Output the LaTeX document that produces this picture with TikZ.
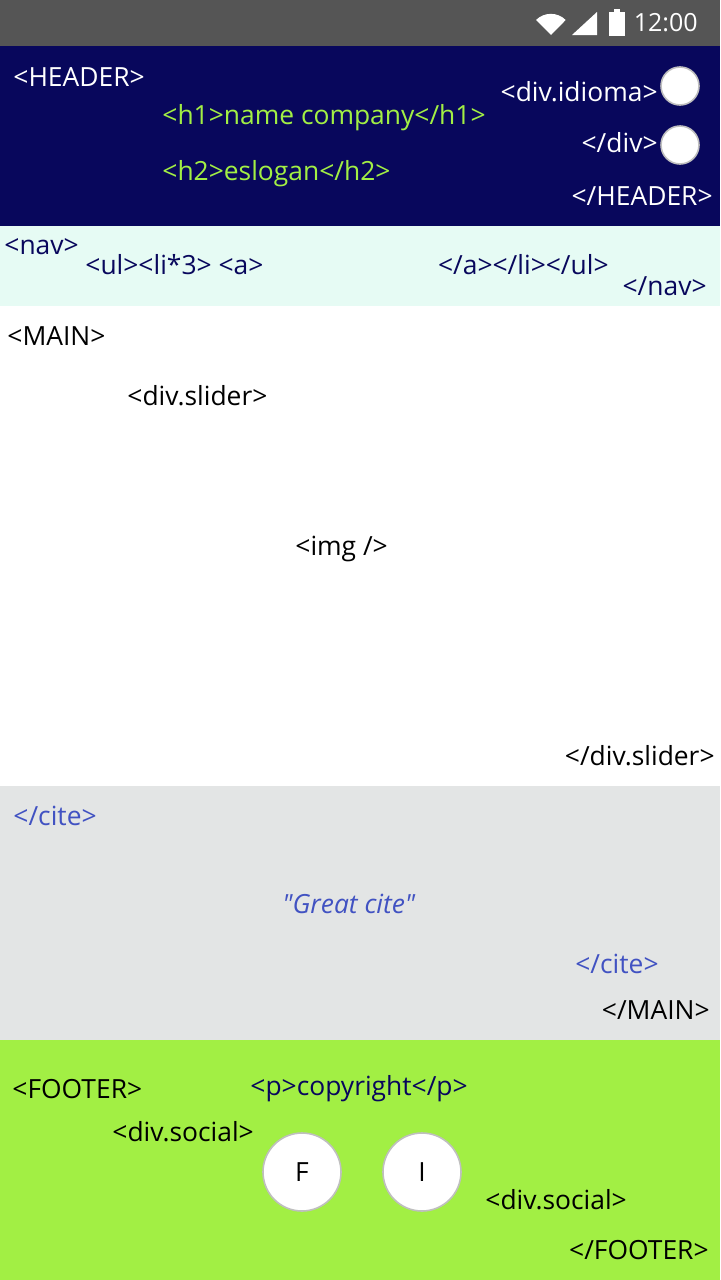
\documentclass[tikz,border=0pt]{standalone}
\usepackage{fontspec}
\setmainfont{Open Sans}
\usetikzlibrary{positioning}
\definecolor{statusgray}{HTML}{555555}
\definecolor{headnavy}{HTML}{08075C}
\definecolor{navmint}{HTML}{E6FBF4}
\definecolor{citegray}{HTML}{E3E5E5}
\definecolor{footgreen}{HTML}{A2EF44}
\definecolor{citeblue}{HTML}{4152C2}
\tikzset{tag/.style={inner sep=0pt, font=\fontsize{13.2}{13.2}\selectfont},
lefttag/.style={tag, anchor=base west},
righttag/.style={tag, anchor=base east},
lang/.style={circle, fill=white, draw=gray!50, line width=0.8pt, minimum size=19pt, inner sep=0pt},
social/.style={lang, minimum size=39pt, font=\fontsize{13.2}{13.2}\selectfont}}

\begin{document}
\begin{tikzpicture}[x=0.5pt,y=-0.5pt]
  \useasboundingbox (0,0) rectangle (720,1280);
  % bands
  \fill [statusgray] (0,0) rectangle (720,46);
  \fill [headnavy] (0,46) rectangle (720,226);
  \fill [navmint] (0,226) rectangle (720,306);
  \fill [white] (0,306) rectangle (720,786);
  \fill [citegray] (0,786) rectangle (720,1040);
  \fill [footgreen] (0,1040) rectangle (720,1280);

  % status bar
  \fill [white] (551,35) -- (536,20) arc [start angle=225, end angle=315, radius=21] -- cycle;
  \fill [white] (572,35) -- (597,35) -- (597,12) -- cycle;
  \fill [white] (614,9) rectangle (620,12);
  \fill [white] (609,12) rectangle (625,36);
  \node (clock) [righttag, white, font=\fontsize{12.5}{12.5}\selectfont] at (698,31) {12:00};

  % header
  \node (header) [lefttag, white] at (13,86) {<HEADER>};
  \node (hone) [lefttag, footgreen] at (162,124) {<h1>name company</h1>};
  \node (htwo) [lefttag, footgreen] at (162,180) {<h2>eslogan</h2>};
  \node (langa) [lang] at (680,86) {};
  \node (langb) [lang] at (680,145) {};
  \node (idioma) [righttag, white] at (658,101) {<div.idioma>};
  \node (idiomaend) [righttag, white] at (658,152) {</div>};
  \node (headerend) [righttag, white] at (713,205) {</HEADER>};

  % nav
  \node (nav) [lefttag, headnavy] at (4,254) {<nav>};
  \node (ul) [lefttag, headnavy] at (85,274) {<ul><li*3> <a>};
  \node (ulend) [righttag, headnavy] at (609,274) {</a></li></ul>};
  \node (navend) [righttag, headnavy] at (707,295) {</nav>};

  % main
  \node (main) [lefttag] at (7,345) {<MAIN>};
  \node (slider) [lefttag] at (127,405) {<div.slider>};
  \node (img) [lefttag] at (295,555) {<img />};
  \node (sliderend) [righttag] at (715,765) {</div.slider>};

  % cite
  \node (cite) [lefttag, citeblue] at (13,825) {</cite>};
  \node (great) [lefttag, citeblue, font=\fontsize{13.2}{13.2}\selectfont\itshape] at (282,913) {\textquotedbl Great cite\textquotedbl};
  \node (citeend) [righttag, citeblue] at (659,973) {</cite>};
  \node (mainend) [righttag] at (710,1019) {</MAIN>};

  % footer
  \node (footer) [lefttag] at (12,1098) {<FOOTER>};
  \node (copy) [lefttag, headnavy] at (250,1095) {<p>copyright</p>};
  \node (social) [lefttag] at (112,1141) {<div.social>};
  \node (face) [social] at (302,1172) {F};
  \node (insta) [social] at (422,1172) {I};
  \node (socialend) [lefttag] at (485,1209) {<div.social>};
  \node (footerend) [righttag] at (709,1259) {</FOOTER>};
\end{tikzpicture}
\end{document}
